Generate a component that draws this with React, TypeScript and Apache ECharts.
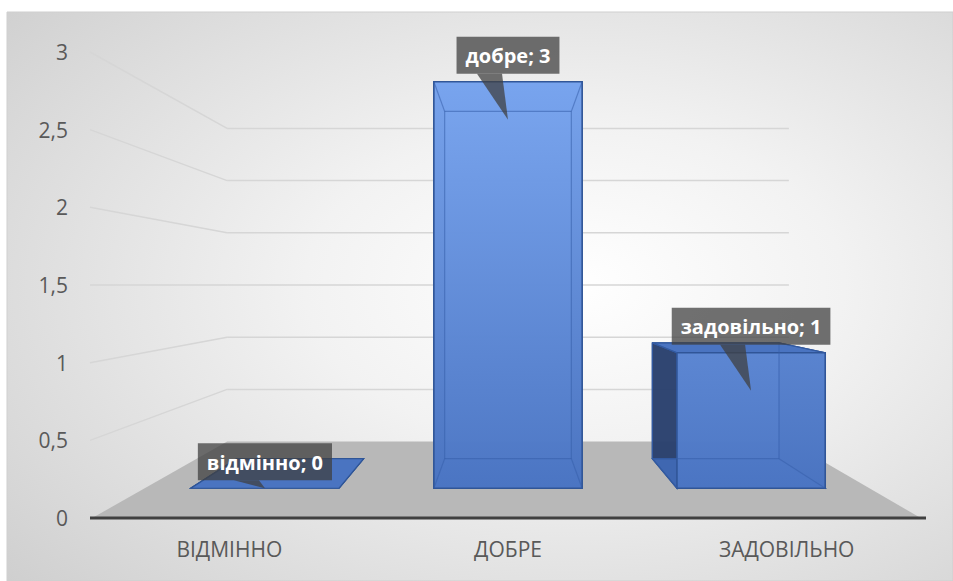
import React, { useEffect, useRef } from "react";
import * as echarts from "echarts";

const categories = ["відмінно", "добре", "задовільно"];
const values = [0, 3, 1];
const yTicks = [0, 0.5, 1, 1.5, 2, 2.5, 3];

const FONT = '"Open Sans", "Noto Sans", sans-serif';

export default function App() {
  const ref = useRef<HTMLDivElement>(null);
  useEffect(() => {
    document.body.style.margin = "0";
    const chart = echarts.init(ref.current!, null, { renderer: "svg" });

    const BACK = 0.672; // perspective scale of the back wall
    const zBack = 1 / BACK - 1;
    const sAt = (f: number) => 1 / (1 + f * zBack);
    const sF = sAt(0.3);
    const sR = sAt(0.7);

    const vpOf = (params: any) => {
      const cs = params.coordSys;
      return [cs.x + cs.width / 2, cs.y + cs.height / 2];
    };
    const P = (V: number[], x: number, y: number, s: number) => [
      V[0] + (x - V[0]) * s,
      V[1] + (y - V[1]) * s,
    ];

    const blueGrad = new echarts.graphic.LinearGradient(
      0, 80, 0, 490,
      [
        { offset: 0, color: "#7aa6f0" },
        { offset: 1, color: "#4b75c3" },
      ],
      true
    );

    const wallsItem = (params: any, api: any) => {
      const cs = params.coordSys;
      const V = vpOf(params);
      const v = api.value(1);
      const front = api.coord([0, v]);
      const xL = cs.x;
      const xR = cs.x + cs.width;
      const bl = P(V, xL, front[1], BACK);
      const br = P(V, xR, front[1], BACK);
      if (v === 0) {
        return {
          type: "group",
          children: [
            {
              type: "polygon",
              shape: { points: [[xL + 4, front[1] - 1], bl, br, [xR - 7, front[1] - 1]] },
              style: { fill: "#b8b8b8" },
            },
            {
              type: "line",
              shape: { x1: xL, y1: front[1], x2: xR, y2: front[1] },
              style: { stroke: "#404040", lineWidth: 3 },
            },
          ],
        };
      }
      return {
        type: "group",
        children: [
          {
            type: "line",
            shape: { x1: xL, y1: front[1], x2: bl[0], y2: bl[1] },
            style: { stroke: "#d6d6d6", lineWidth: 1.5 },
          },
          {
            type: "line",
            shape: { x1: bl[0], y1: bl[1], x2: br[0], y2: br[1] },
            style: { stroke: "#d6d6d6", lineWidth: 1.5 },
          },
        ],
      };
    };

    const barItem = (params: any, api: any) => {
      const V = vpOf(params);
      const idx = api.value(0);
      const val = api.value(1);
      const base = api.coord([idx, 0]);
      const top = api.coord([idx, val]);
      const hw = api.size([1, 0])[0] * 0.305;
      const xl = base[0] - hw;
      const xr = base[0] + hw;
      const fBL = P(V, xl, base[1], sF);
      const fBR = P(V, xr, base[1], sF);
      const fTL = P(V, xl, top[1], sF);
      const fTR = P(V, xr, top[1], sF);
      const bBL = P(V, xl, base[1], sR);
      const bBR = P(V, xr, base[1], sR);
      const bTL = P(V, xl, top[1], sR);
      const bTR = P(V, xr, top[1], sR);
      const edge = "#2f5597";
      const inner = "rgba(55,95,170,0.55)";
      const children: any[] = [];
      children.push({
        type: "polygon",
        shape: { points: [bBL, bBR, bTR, bTL] },
        style: { fill: "rgba(68,114,196,0.6)", stroke: edge, lineWidth: 1 },
      });
      children.push({
        type: "polygon",
        shape: { points: [bBL, bTL, fTL, fBL] },
        style: { fill: "rgba(40,62,105,0.92)", stroke: edge, lineWidth: 1.2 },
      });
      children.push({
        type: "polygon",
        shape: { points: [fBR, fTR, bTR, bBR] },
        style: { fill: "rgba(40,62,105,0.92)", stroke: edge, lineWidth: 1.2 },
      });
      children.push({
        type: "polygon",
        shape: { points: [fBL, fBR, bBR, bBL] },
        style: { fill: "#3f67b1", stroke: edge, lineWidth: 1.2 },
      });
      children.push({
        type: "polygon",
        shape: { points: [bTL, bTR, fTR, fTL] },
        style: { fill: "#4a74c1", stroke: edge, lineWidth: 1.2 },
      });
      if (fBL[1] - fTL[1] > 0.5) {
        children.push({
          type: "polygon",
          shape: { points: [fBL, fBR, fTR, fTL] },
          style: { fill: blueGrad, opacity: 0.97, stroke: edge, lineWidth: 1.6 },
        });
        const lines = [
          [bBL, bBR], [bBR, bTR], [bTR, bTL], [bTL, bBL],
          [bBL, fBL], [bBR, fBR], [bTR, fTR], [bTL, fTL],
        ];
        lines.forEach(([a, b]) =>
          children.push({
            type: "line",
            shape: { x1: a[0], y1: a[1], x2: b[0], y2: b[1] },
            style: { stroke: inner, lineWidth: 1.2 },
          })
        );
      }
      const cx = (fTL[0] + fTR[0]) / 2;
      const boxBottom = fTL[1] - 8;
      const tipY = Math.min(fTL[1] + 38, fBL[1]);
      const labelFill = "rgba(64,64,64,0.74)";
      children.push({
        type: "polygon",
        shape: { points: [[cx - 31, boxBottom], [cx - 6, boxBottom], [cx, tipY]] },
        style: { fill: labelFill },
        z2: 10,
      });
      children.push({
        type: "text",
        x: cx,
        y: boxBottom,
        z2: 11,
        style: {
          text: categories[idx] + "; " + val,
          fill: "#ffffff",
          font: "bold 20px " + FONT,
          align: "center",
          verticalAlign: "bottom",
          backgroundColor: labelFill,
          padding: [9, 9, 8, 9],
        },
      });
      return { type: "group", children };
    };

    chart.setOption({
      animation: false,
      graphic: {
        elements: [
          {
            type: "rect",
            z: -100,
            silent: true,
            shape: { x: 7, y: 12, width: 946, height: 569 },
            style: {
              fill: new echarts.graphic.RadialGradient(0.6, 0.48, 0.95, [
                { offset: 0, color: "#ffffff" },
                { offset: 0.3, color: "#f2f2f2" },
                { offset: 0.7, color: "#d8d8d8" },
                { offset: 1, color: "#c4c4c4" },
              ]),
              stroke: "#cfcfcf",
              lineWidth: 1,
            },
          },
        ],
      },
      grid: { left: 90, right: 27, top: 52, bottom: 63 },
      xAxis: {
        type: "category",
        data: categories,
        axisLine: { show: false },
        axisTick: { show: false },
        axisLabel: {
          color: "#595959",
          fontFamily: FONT,
          fontSize: 21,
          margin: 20,
          formatter: (v: string) => v.toUpperCase(),
        },
      },
      yAxis: {
        type: "value",
        min: 0,
        max: 3,
        interval: 0.5,
        splitLine: { show: false },
        axisLine: { show: false },
        axisTick: { show: false },
        axisLabel: {
          color: "#595959",
          fontFamily: FONT,
          fontSize: 21,
          margin: 22,
          formatter: (v: number) => String(v).replace(".", ","),
        },
      },
      series: [
        {
          type: "custom",
          name: "walls",
          renderItem: wallsItem,
          encode: { x: 0, y: 1 },
          data: yTicks.map((v) => [0, v]),
          silent: true,
          z: 1,
        },
        {
          type: "custom",
          name: "bars",
          renderItem: barItem,
          encode: { x: 0, y: 1 },
          data: values.map((v, i) => [i, v]),
          z: 3,
        },
      ],
    });
    return () => chart.dispose();
  }, []);
  return <div ref={ref} style={{ width: 953, height: 581 }} />;
}
